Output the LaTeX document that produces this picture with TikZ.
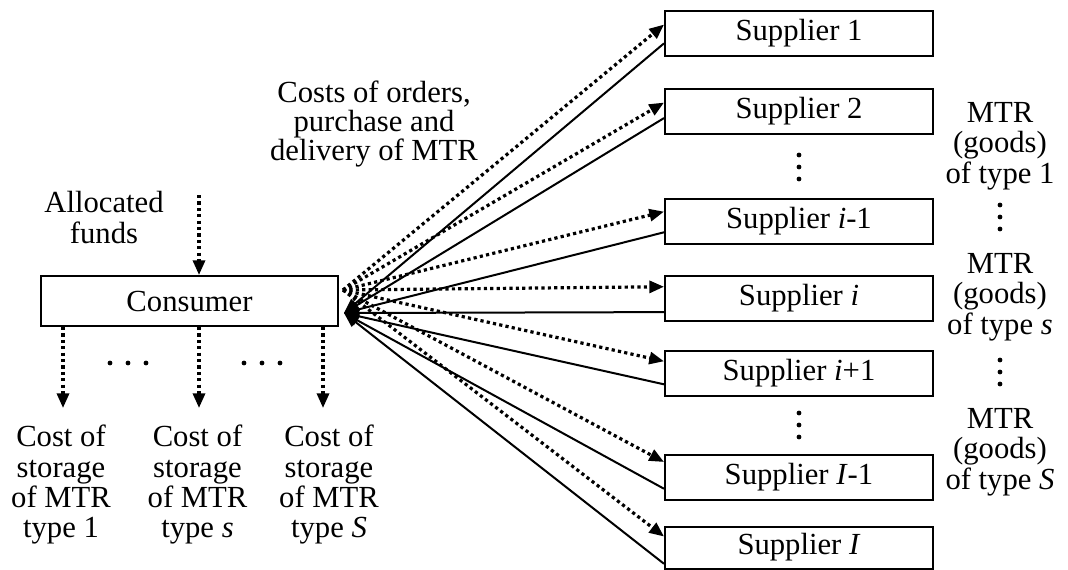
\documentclass[tikz,border=0pt]{standalone}
\usepackage{fontspec}
\setmainfont{Liberation Serif}
\usetikzlibrary{arrows.meta,calc}
\begin{document}
\begin{tikzpicture}[x=0.75pt,y=-0.75pt,
  box/.style={draw,line width=1.5pt,minimum width=201pt,minimum height=33.75pt,inner sep=0pt},
  lbl/.style={align=center,inner sep=0pt,font=\fontsize{23pt}{22.75pt}\selectfont},
  dotarr/.style={line width=2.4pt,dash pattern=on 2.4pt off 2.4pt,-{Triangle[length=11pt,width=9pt]}},
  solarr/.style={line width=1.5pt,-{Triangle[length=11pt,width=9pt]}},
  ]
\useasboundingbox (0,0) rectangle (1068,569);
\newcommand{\vdotsat}[1]{\foreach \dy in {-12,0,12} {\fill ($(#1)+(0,\dy)$) circle[radius=1.8pt];}}
\newcommand{\hdotsat}[1]{\foreach \dx in {-18,0,18} {\fill ($(#1)+(\dx,0)$) circle[radius=1.8pt];}}

% consumer
\node[box,lbl,minimum width=222.75pt,minimum height=37.5pt] (con) at (189.5,301) {Consumer};

% suppliers
\node[box,lbl] (s1)  at (799,33.5)  {Supplier 1};
\node[box,lbl] (s2)  at (799,111.5) {Supplier 2};
\node[box,lbl] (si1) at (799,221.5) {Supplier \textit{i}-1};
\node[box,lbl] (si)  at (799,298)   {Supplier \textit{i}};
\node[box,lbl] (sip) at (799,373.5) {Supplier \textit{i}+1};
\node[box,lbl] (sI1) at (799,477)   {Supplier \textit{I}-1};
\node[box,lbl,minimum height=31.5pt] (sI) at (799,547.5) {Supplier \textit{I}};

% vertical dots
\coordinate (vd1) at (799,167);
\coordinate (vd2) at (799,425);
\coordinate (vd3) at (1000,217);
\coordinate (vd4) at (1000,372);
\vdotsat{vd1}
\vdotsat{vd2}
\vdotsat{vd3}
\vdotsat{vd4}

% right labels
\node[lbl] (g1) at (1000,146) {MTR\\(goods)\\of type 1};
\node[lbl] (g2) at (1000,297) {MTR\\(goods)\\of type \textit{s}};
\node[lbl] (g3) at (1000,452) {MTR\\(goods)\\of type \textit{S}};

% costs label
\node[lbl,font=\fontsize{23pt}{21.4pt}\selectfont] (costs) at (374,124) {Costs of orders,\\purchase and\\delivery of MTR};

% allocated funds
\node[lbl] (alloc) at (104,217.5) {Allocated\\funds};
\coordinate (fin) at (199,195);
\draw[dotarr] (fin) -- (fin |- con.north);

% storage costs
\node[lbl] (c1) at (61,485)   {Cost of\\storage\\of MTR\\type 1};
\node[lbl] (c2) at (197.5,485) {Cost of\\storage\\of MTR\\type \textit{s}};
\node[lbl] (c3) at (329,485)  {Cost of\\storage\\of MTR\\type \textit{S}};
\coordinate (b1) at (63,408);
\coordinate (b2) at (199,408);
\coordinate (b3) at (323,408);
\draw[dotarr] (b1 |- con.south) -- (b1);
\draw[dotarr] (b2 |- con.south) -- (b2);
\draw[dotarr] (b3 |- con.south) -- (b3);
\coordinate (hd1) at (128,363);
\coordinate (hd2) at (262,363);
\hdotsat{hd1}
\hdotsat{hd2}

% connection points at consumer
\coordinate (cout) at ($(con.east)+(4,-11)$);
\coordinate (cin)  at ($(con.east)+(5,12)$);

% dotted: consumer -> suppliers
\draw[dotarr] (cout) -- ($(s1.north west)!0.31!(s1.south west)$);
\draw[dotarr] (cout) -- ($(s2.north west)!0.31!(s2.south west)$);
\draw[dotarr] (cout) -- ($(si1.north west)!0.29!(si1.south west)$);
\draw[dotarr] (cout) -- ($(si.north west)!0.26!(si.south west)$);
\draw[dotarr] (cout) -- ($(sip.north west)!0.24!(sip.south west)$);
\draw[dotarr] (cout) -- ($(sI1.north west)!0.18!(sI1.south west)$);
\draw[dotarr] (cout) -- ($(sI.north west)!0.25!(sI.south west)$);

% solid: suppliers -> consumer
\draw[solarr] ($(s1.north west)!0.71!(s1.south west)$) -- (cin);
\draw[solarr] ($(s2.north west)!0.64!(s2.south west)$) -- (cin);
\draw[solarr] ($(si1.north west)!0.73!(si1.south west)$) -- (cin);
\draw[solarr] ($(si.north west)!0.8!(si.south west)$) -- (cin);
\draw[solarr] ($(sip.north west)!0.73!(sip.south west)$) -- (cin);
\draw[solarr] ($(sI1.north west)!0.75!(sI1.south west)$) -- (cin);
\draw[solarr] ($(sI.north west)!0.87!(sI.south west)$) -- (cin);
\end{tikzpicture}
\end{document}
